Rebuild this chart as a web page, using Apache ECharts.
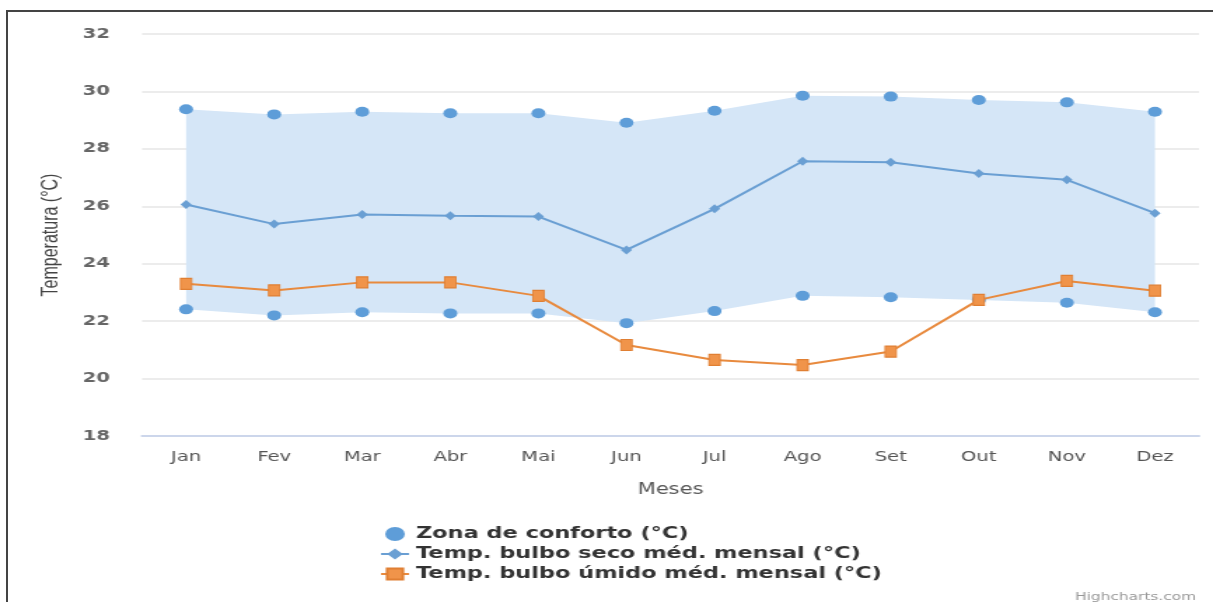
<!DOCTYPE html>
<html>
<head>
<meta charset="utf-8">
<script src="https://cdn.jsdelivr.net/npm/echarts@6/dist/echarts.min.js"></script>
<style>
  html, body { margin: 0; padding: 0; background: #fff; overflow: hidden; }
  /* the source picture is stretched sideways, so draw narrow and widen */
  #chart {
    position: absolute; left: 0; top: 0; width: 866px; height: 602px;
    transform: scaleX(1.4007); transform-origin: 0 0;
  }
  .frame {
    position: absolute; left: 6px; top: 10px; right: 0; bottom: 0;
    border-top: 2px solid #444; border-left: 2px solid #444;
    pointer-events: none;
  }
</style>
</head>
<body>
<div id="chart"></div>
<div class="frame"></div>
<script>
// meses
const meses = ['Jan', 'Fev', 'Mar', 'Abr', 'Mai', 'Jun', 'Jul', 'Ago', 'Set', 'Out', 'Nov', 'Dez'];

// zona de conforto (limite inferior / superior)
const confortoMin = [22.41, 22.2, 22.31, 22.27, 22.27, 21.93, 22.35, 22.88, 22.83, 22.74, 22.64, 22.31];
const confortoMax = [29.38, 29.2, 29.29, 29.24, 29.24, 28.91, 29.33, 29.85, 29.82, 29.7, 29.62, 29.29];

// temperaturas medias mensais
const bulboSeco = [26.06, 25.38, 25.71, 25.67, 25.64, 24.48, 25.91, 27.57, 27.53, 27.14, 26.92, 25.76];
const bulboUmido = [23.3, 23.07, 23.35, 23.35, 22.88, 21.17, 20.65, 20.47, 20.94, 22.74, 23.4, 23.06];

const yTicks = { min: 18, max: 32, interval: 2 };

const chart = echarts.init(document.getElementById('chart'));

const azulPonto = '#5e9dd8';
const faixa = confortoMax.map((v, i) => +(v - confortoMin[i]).toFixed(2));

const option = {
  animation: false,
  textStyle: { fontFamily: 'DejaVu Sans' },
  grid: { left: 101.4, right: 10, top: 34, bottom: 166 },
  legend: {
    orient: 'vertical',
    left: 266,
    top: 521,
    itemGap: 4,
    itemWidth: 20,
    itemHeight: 14,
    textStyle: { fontSize: 16, fontWeight: 'bold', color: '#333', fontFamily: 'DejaVu Sans' },
    data: [
      { name: 'Zona de conforto (°C)', icon: 'circle', itemStyle: { color: azulPonto } },
      { name: 'Temp. bulbo seco méd. mensal (°C)' },
      { name: 'Temp. bulbo úmido méd. mensal (°C)' }
    ]
  },
  xAxis: {
    type: 'category',
    data: meses,
    boundaryGap: true,
    name: 'Meses',
    nameLocation: 'middle',
    nameGap: 47,
    nameTextStyle: { fontSize: 15, color: '#555' },
    axisLine: { lineStyle: { color: '#ccd6eb', width: 2 } },
    axisTick: { show: false },
    axisLabel: { fontSize: 14, color: '#555', margin: 14 }
  },
  yAxis: {
    type: 'value',
    min: yTicks.min,
    max: yTicks.max,
    interval: yTicks.interval,
    name: 'Temperatura (°C)',
    nameLocation: 'middle',
    nameGap: 57,
    nameRotate: 90,
    nameTextStyle: { fontSize: 16, color: '#444', fontFamily: 'Liberation Sans' },
    axisLine: { show: false },
    axisTick: { show: false },
    axisLabel: { fontSize: 14, color: '#666', margin: 23, fontWeight: 'bold' },
    splitLine: { lineStyle: { color: '#e6e6e6', width: 1.5 } }
  },
  series: [
    {
      name: 'conforto-min',
      type: 'line',
      stack: 'zona',
      data: confortoMin,
      symbol: 'circle',
      symbolSize: [10, 10],
      itemStyle: { color: azulPonto },
      lineStyle: { opacity: 0 },
      z: 2
    },
    {
      name: 'Zona de conforto (°C)',
      type: 'line',
      stack: 'zona',
      data: faixa,
      symbol: 'circle',
      symbolSize: [10, 10],
      itemStyle: { color: azulPonto },
      lineStyle: { opacity: 0 },
      areaStyle: { color: '#d5e6f7', opacity: 1 },
      z: 2
    },
    {
      name: 'Temp. bulbo seco méd. mensal (°C)',
      type: 'line',
      data: bulboSeco,
      symbol: 'diamond',
      symbolSize: [8, 9],
      itemStyle: { color: '#6a9fd3' },
      lineStyle: { color: '#6a9fd3', width: 2 },
      z: 3
    },
    {
      name: 'Temp. bulbo úmido méd. mensal (°C)',
      type: 'line',
      data: bulboUmido,
      symbol: 'rect',
      symbolSize: [8, 11],
      itemStyle: { color: '#f0944a', borderColor: '#e07f33', borderWidth: 1 },
      lineStyle: { color: '#e88a3e', width: 2 },
      z: 4
    }
  ],
  graphic: [
    {
      type: 'text',
      right: 12,
      top: 592,
      style: { text: 'Highcharts.com', fontSize: 11, fill: '#999', fontFamily: 'DejaVu Sans' }
    }
  ]
};

chart.setOption(option);
</script>
</body>
</html>
